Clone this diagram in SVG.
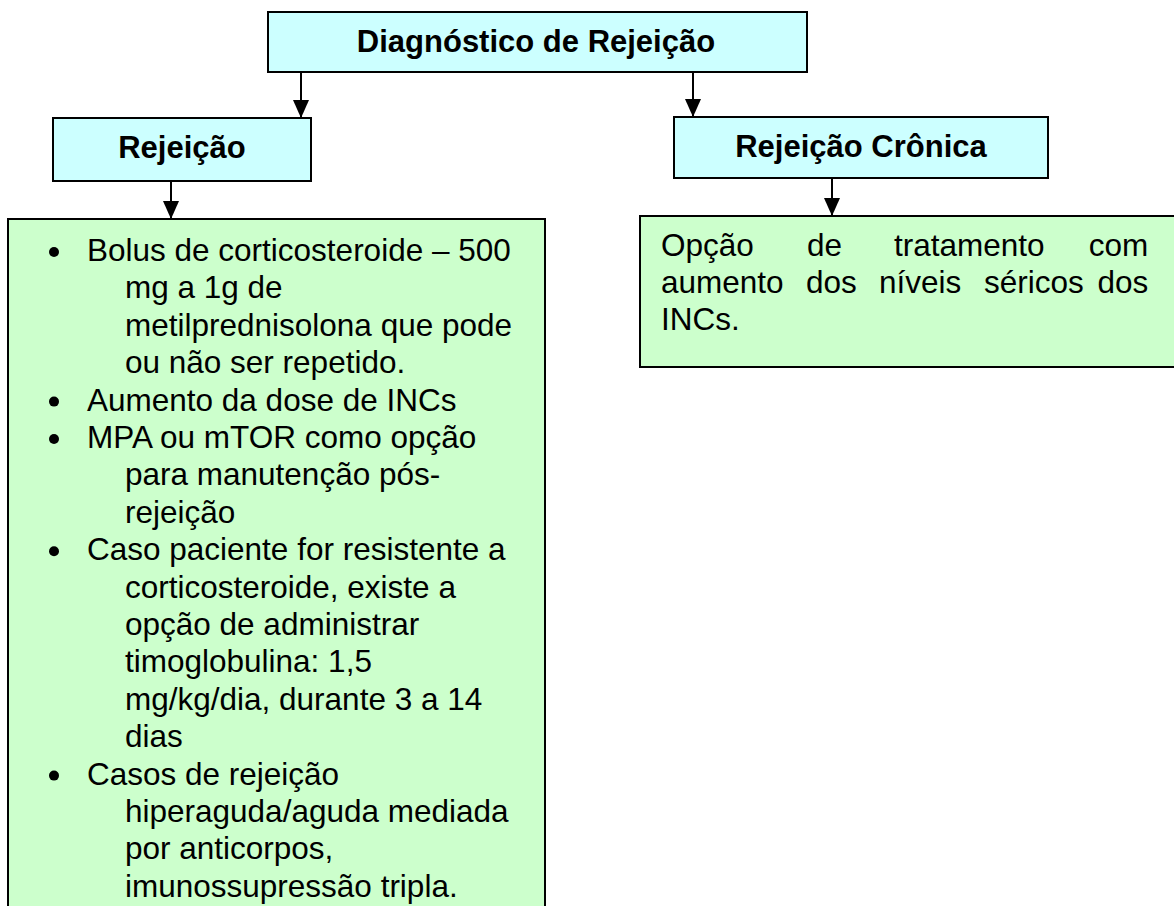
<svg xmlns="http://www.w3.org/2000/svg" width="1174" height="906" viewBox="0 0 1174 906">
<defs>
<marker id="ah" markerUnits="userSpaceOnUse" markerWidth="18" markerHeight="16" viewBox="0 0 18 16" refX="18" refY="8" orient="auto">
<path d="M0,0 L18,8 L0,16 z" fill="#000"/>
</marker>
<style>
.cyan{fill:#CCFFFF;stroke:#000;stroke-width:2}
.green{fill:#CCFFCC;stroke:#000;stroke-width:2}
.hd{font-family:"Liberation Sans",Arial,sans-serif;font-weight:bold;font-size:31px;fill:#000;text-anchor:middle}
.tx{font-family:"Liberation Sans",Arial,sans-serif;font-size:31.5px;fill:#000}
.conn{stroke:#000;stroke-width:2;fill:none;marker-end:url(#ah)}
</style>
</defs>
<rect width="1174" height="906" fill="#fff"/>
<g id="diagnostico">
<rect class="cyan" x="268" y="12" width="539" height="60"/>
<text class="hd" x="536" y="52">Diagnóstico de Rejeição</text>
</g>
<g id="rejeicao">
<rect class="cyan" x="53" y="118" width="258" height="63"/>
<text class="hd" x="182" y="158">Rejeição</text>
</g>
<g id="rejeicao-cronica">
<rect class="cyan" x="674" y="117" width="374" height="61"/>
<text class="hd" x="861" y="157">Rejeição Crônica</text>
</g>
<g id="tratamento-rejeicao">
<rect class="green" x="8" y="219" width="537" height="700"/>
<g fill="#000">
<circle cx="54" cy="252" r="5"/>
<circle cx="54" cy="401.6" r="5"/>
<circle cx="54" cy="439" r="5"/>
<circle cx="54" cy="551.2" r="5"/>
<circle cx="54" cy="775.6" r="5"/>
</g>
<text class="tx">
<tspan x="87" y="261">Bolus de corticosteroide – 500</tspan>
<tspan x="125" y="298.4">mg a 1g de</tspan>
<tspan x="125" y="335.8">metilprednisolona que pode</tspan>
<tspan x="125" y="373.2">ou não ser repetido.</tspan>
<tspan x="87" y="410.6">Aumento da dose de INCs</tspan>
<tspan x="87" y="448">MPA ou mTOR como opção</tspan>
<tspan x="125" y="485.4">para manutenção pós-</tspan>
<tspan x="125" y="522.8">rejeição</tspan>
<tspan x="87" y="560.2">Caso paciente for resistente a</tspan>
<tspan x="125" y="597.6">corticosteroide, existe a</tspan>
<tspan x="125" y="635">opção de administrar</tspan>
<tspan x="125" y="672.4">timoglobulina: 1,5</tspan>
<tspan x="125" y="709.8">mg/kg/dia, durante 3 a 14</tspan>
<tspan x="125" y="747.2">dias</tspan>
<tspan x="87" y="784.6">Casos de rejeição</tspan>
<tspan x="125" y="822">hiperaguda/aguda mediada</tspan>
<tspan x="125" y="859.4">por anticorpos,</tspan>
<tspan x="125" y="896.8">imunossupressão tripla.</tspan>
</text>
</g>
<g id="tratamento-cronica">
<rect class="green" x="640" y="216" width="560" height="151"/>
<text class="tx">
<tspan x="661" y="256">Opção</tspan>
<tspan x="807" y="256">de</tspan>
<tspan x="894" y="256">tratamento</tspan>
<tspan x="1157" y="256" text-anchor="end">com</tspan>
<tspan x="661" y="293">aumento</tspan>
<tspan x="806" y="293">dos</tspan>
<tspan x="879" y="293">níveis</tspan>
<tspan x="984" y="293">séricos</tspan>
<tspan x="1157" y="293" text-anchor="end">dos</tspan>
<tspan x="661" y="330">INCs.</tspan>
</text>
</g>
<g id="connectors">
<line class="conn" x1="301" y1="73" x2="301" y2="118"/>
<line class="conn" x1="693" y1="73" x2="693" y2="117"/>
<line class="conn" x1="171" y1="181" x2="171" y2="219"/>
<line class="conn" x1="832" y1="178" x2="832" y2="216"/>
</g>
</svg>
